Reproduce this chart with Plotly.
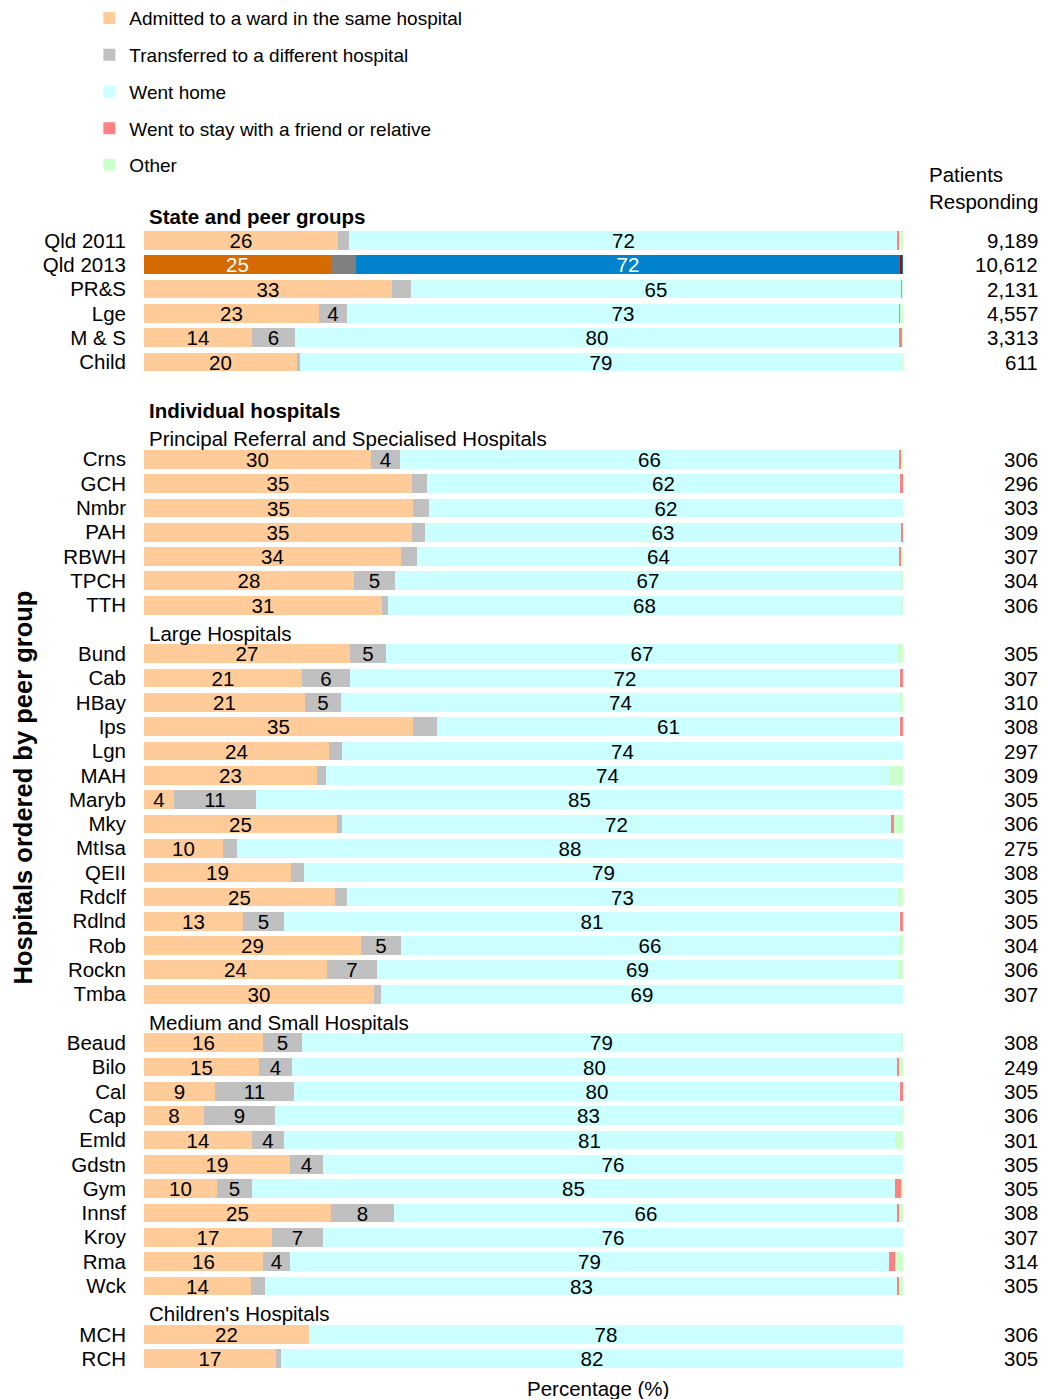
import plotly.graph_objects as go

# ---------------- data ----------------
categories = [
    "Qld 2011", "Qld 2013", "PR&S", "Lge", "M & S", "Child",
    "Crns", "GCH", "Nmbr", "PAH", "RBWH", "TPCH", "TTH",
    "Bund", "Cab", "HBay", "Ips", "Lgn", "MAH", "Maryb", "Mky", "MtIsa",
    "QEII", "Rdclf", "Rdlnd", "Rob", "Rockn", "Tmba",
    "Beaud", "Bilo", "Cal", "Cap", "Emld", "Gdstn", "Gym", "Innsf", "Kroy",
    "Rma", "Wck",
    "MCH", "RCH",
]
admitted = [
    25.6, 24.7, 32.7, 23.1, 14.2, 20.2,
    29.9, 35.3, 35.4, 35.3, 33.8, 27.7, 31.4,
    27.2, 20.8, 21.2, 35.4, 24.4, 22.8, 4.0, 25.4, 10.4,
    19.4, 25.2, 13.0, 28.6, 24.1, 30.3,
    15.7, 15.2, 9.3, 7.9, 14.2, 19.2, 9.6, 24.6, 16.8,
    15.7, 14.1,
    21.7, 17.4,
]
transferred = [
    1.4, 3.2, 2.5, 3.6, 5.7, 0.3,
    3.8, 2.0, 2.2, 1.7, 2.2, 5.4, 0.7,
    4.7, 6.4, 4.8, 3.2, 1.7, 1.2, 10.8, 0.7, 1.8,
    1.7, 1.6, 5.4, 5.3, 6.6, 0.9,
    5.1, 4.3, 10.5, 9.3, 4.2, 4.4, 4.6, 8.3, 6.8,
    3.6, 1.9,
    0.0, 0.7,
]
went_home = [
    72.3, 71.7, 64.6, 72.8, 79.6, 79.4,
    65.8, 62.3, 62.4, 62.7, 63.6, 66.7, 67.7,
    67.4, 72.4, 73.6, 61.0, 73.9, 74.2, 85.2, 72.3, 87.8,
    78.9, 72.6, 81.2, 65.6, 68.6, 68.8,
    78.9, 79.7, 79.8, 82.7, 80.6, 76.4, 84.8, 66.4, 76.4,
    78.8, 83.3,
    78.3, 81.9,
]
friend_relative = [
    0.2, 0.3, 0.1, 0.1, 0.4, 0.0,
    0.2, 0.4, 0.0, 0.3, 0.2, 0.0, 0.0,
    0.0, 0.4, 0.0, 0.4, 0.0, 0.0, 0.0, 0.4, 0.0,
    0.0, 0.0, 0.4, 0.0, 0.0, 0.0,
    0.0, 0.3, 0.4, 0.0, 0.0, 0.0, 0.8, 0.2, 0.0,
    0.9, 0.2,
    0.0, 0.0,
]
other = [
    0.5, 0.1, 0.1, 0.4, 0.1, 0.1,
    0.3, 0.0, 0.0, 0.0, 0.2, 0.2, 0.2,
    0.7, 0.0, 0.4, 0.0, 0.0, 1.8, 0.0, 1.2, 0.0,
    0.0, 0.6, 0.0, 0.5, 0.7, 0.0,
    0.3, 0.5, 0.0, 0.1, 1.0, 0.0, 0.2, 0.5, 0.0,
    1.0, 0.5,
    0.0, 0.0,
]
patients = [
    9189, 10612, 2131, 4557, 3313, 611,
    306, 296, 303, 309, 307, 304, 306,
    305, 307, 310, 308, 297, 309, 305, 306, 275,
    308, 305, 305, 304, 306, 307,
    308, 249, 305, 306, 301, 305, 305, 308, 307,
    314, 305,
    306, 305,
]
section_titles = ["State and peer groups", "Individual hospitals"]
group_titles = ["Principal Referral and Specialised Hospitals", "Large Hospitals",
                "Medium and Small Hospitals", "Children's Hospitals"]
n_state = 6
group_sizes = [7, 15, 11, 2]
series_names = ["Admitted to a ward in the same hospital", "Transferred to a different hospital",
                "Went home", "Went to stay with a friend or relative", "Other"]
highlight = "Qld 2013"

# ---------------- styles ----------------
FONT = "Liberation Sans, Arial, sans-serif"
FS = 20.5
base_colors = ["#FFCC99", "#C0C0C0", "#CCFFFF", "#FF8080", "#CCFFCC"]
hi_colors = ["#D46A00", "#808080", "#0082CC", "#CC0000", "#008080"]

# ---------------- row layout (derived from order) ----------------
pos = []
headings = []
r = 0
headings.append((r, section_titles[0], True)); r += 1
for _ in range(n_state):
    pos.append(r); r += 1
r += 1
headings.append((r, section_titles[1], True)); r += 1
for title, size in zip(group_titles, group_sizes):
    headings.append((r, title, False)); r += 1
    for _ in range(size):
        pos.append(r); r += 1
n_rows = r

hi_idx = categories.index(highlight)

def label(v, minimum):
    n = int(v + 0.5)
    return str(n) if n >= minimum else ""

fig = go.Figure()
series = [admitted, transferred, went_home, friend_relative, other]
min_label = [4, 4, 0, 1000, 1000]
for k, (name, vals) in enumerate(zip(series_names, series)):
    colors = [hi_colors[k] if i == hi_idx else base_colors[k] for i in range(len(vals))]
    tcolors = ["white" if i == hi_idx else "black" for i in range(len(vals))]
    fig.add_trace(go.Bar(
        y=pos, x=vals, orientation="h", name=name,
        legendgroup=name,
        marker=dict(color=colors, line=dict(width=0)),
        width=0.77,
        text=[label(v, min_label[k]) for v in vals],
        textposition="inside", insidetextanchor="middle",
        constraintext="none", textangle=0,
        textfont=dict(color=tcolors, size=FS, family=FONT),
        hovertemplate="%{x}<extra>" + name + "</extra>",
    ))

annotations = []
for row, text, bold in headings:
    annotations.append(dict(
        x=0, y=row if bold else row + 0.15, xref="x", yref="y",
        text=f"<b>{text}</b>" if bold else text,
        showarrow=False, xanchor="left", yanchor="middle", xshift=3,
        font=dict(size=FS, family=FONT, color="black")))
for p, n in zip(pos, patients):
    annotations.append(dict(
        x=1.1805, y=p, xref="paper", yref="y", text=f"{n:,}",
        showarrow=False, xanchor="right", yanchor="middle",
        font=dict(size=FS, family=FONT, color="black")))
annotations.append(dict(
    x=1.0315, y=1.0135, xref="paper", yref="paper", text="Patients<br>Responding",
    showarrow=False, xanchor="left", yanchor="middle", align="left",
    font=dict(size=FS, family=FONT, color="black")))
annotations.append(dict(
    x=0.598, y=-0.0146, xref="paper", yref="paper", text="Percentage (%)",
    showarrow=False, xanchor="center", yanchor="middle",
    font=dict(size=FS, family=FONT, color="black")))
annotations.append(dict(
    x=-0.1607, y=0.5, xref="paper", yref="paper", text="<b>Hospitals ordered by peer group</b>",
    showarrow=False, xanchor="center", yanchor="middle", textangle=-90,
    font=dict(size=25.5, family=FONT, color="black")))

fig.update_layout(
    width=1045, height=1399,
    margin=dict(l=144, r=142, t=204, b=28, autoexpand=False),
    paper_bgcolor="white", plot_bgcolor="white",
    barmode="stack", bargap=0,
    font=dict(family=FONT, size=FS, color="black"),
    showlegend=True,
    legend=dict(x=-0.072, y=1.1755, xanchor="left", yanchor="top",
                orientation="v", traceorder="grouped",
                font=dict(size=19, family=FONT, color="black"),
                tracegroupgap=9, bgcolor="rgba(0,0,0,0)", itemwidth=30),
    xaxis=dict(range=[0, 100], showticklabels=False, showgrid=False,
               zeroline=False, showline=False, ticks=""),
    yaxis=dict(range=[n_rows - 0.5, -0.5], tickmode="array",
               tickvals=pos, ticktext=categories, showgrid=False,
               zeroline=False, showline=False, ticks="",
               ticklabelstandoff=17,
               tickfont=dict(size=FS, family=FONT, color="black")),
    annotations=annotations,
)

fig.write_html("out.html", config={"displayModeBar": False},
               post_script="document.body.style.margin='0';document.body.style.overflow='hidden';")
